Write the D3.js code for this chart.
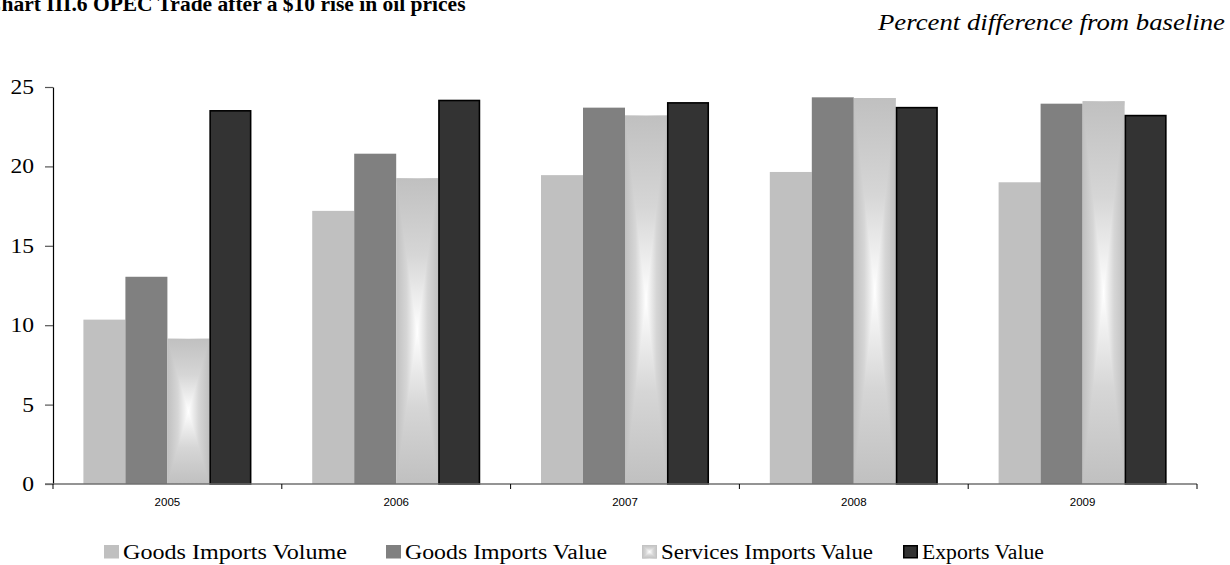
<!DOCTYPE html>
<html>
<head>
<meta charset="utf-8">
<script src="https://cdn.jsdelivr.net/npm/d3@7"></script>
<style>
  html, body { margin: 0; padding: 0; background: #fff; }
  svg { display: block; }
</style>
</head>
<body>
<svg id="chart" width="1230" height="565"></svg>
<script>
// Categories, series and values
const categories = ["2005", "2006", "2007", "2008", "2009"];
const seriesNames = ["Goods Imports Volume", "Goods Imports Value", "Services Imports Value", "Exports Value"];
const goodsImportsVolume   = [10.35, 17.2, 19.45, 19.65, 19.0];
const goodsImportsValue    = [13.05, 20.8, 23.7, 24.35, 23.95];
const servicesImportsValue = [9.15, 19.25, 23.2, 24.3, 24.1];
const exportsValue         = [23.5, 24.15, 24.0, 23.7, 23.2];
const yTicks = [0, 5, 10, 15, 20, 25];

const seriesValues = [goodsImportsVolume, goodsImportsValue, servicesImportsValue, exportsValue];

const serif = "'Liberation Serif', 'Times New Roman', serif";
const sans = "'Liberation Sans', Arial, sans-serif";
const stretch = 1.15; // serif labels are set slightly wide

const svg = d3.select("#chart");
const plot = { left: 53, right: 1197, top: 87, bottom: 484 };

const x0 = d3.scaleBand().domain(categories).range([plot.left, plot.right]).padding(0);
const x1 = d3.scaleBand().domain(seriesNames).range([0, x0.bandwidth()])
  .paddingInner(0).paddingOuter(0.724);
const y = d3.scaleLinear().domain([0, 25]).range([plot.bottom, plot.top]);

// Gradients for the centre-lit "Services Imports Value" bars
const defs = svg.append("defs");
function linGrad(id, x1g, y1g, x2g, y2g, stops) {
  const g = defs.append("linearGradient").attr("id", id)
    .attr("x1", x1g).attr("y1", y1g).attr("x2", x2g).attr("y2", y2g);
  stops.forEach(([o, c]) => g.append("stop").attr("offset", o).attr("stop-color", c));
}
const edge = "#c0c0c0", mid = "#d6d6d6", centre = "#ffffff";
linGrad("gHoriz", 0, 0, 1, 0, [[0, edge], [0.25, mid], [0.5, centre], [0.75, mid], [1, edge]]);
linGrad("gTop", 0, 0, 0, 1, [[0, edge], [0.5, mid], [1, centre]]);
linGrad("gBottom", 0, 1, 0, 0, [[0, edge], [0.5, mid], [1, centre]]);

function litRect(g, x, yTop, w, h) {
  g.append("rect").attr("x", x).attr("y", yTop).attr("width", w).attr("height", h)
    .attr("fill", "url(#gHoriz)");
  const cx = x + w / 2, cy = yTop + h / 2;
  g.append("path")
    .attr("d", `M${x},${yTop}L${x + w},${yTop}L${cx},${cy}Z`)
    .attr("fill", "url(#gTop)");
  g.append("path")
    .attr("d", `M${x},${yTop + h}L${x + w},${yTop + h}L${cx},${cy}Z`)
    .attr("fill", "url(#gBottom)");
}

const fills = ["#c0c0c0", "#808080", null, "#333333"];

// Title (runs off the top-left of the page) and unit note
svg.append("text")
  .attr("x", -14).attr("y", 11)
  .attr("font-family", serif).attr("font-weight", "bold").attr("font-size", 21.5)
  .attr("fill", "#000")
  .text("Chart III.6 OPEC Trade after a $10 rise in oil prices");

svg.append("text")
  .attr("x", 878).attr("y", 30)
  .attr("textLength", 347).attr("lengthAdjust", "spacingAndGlyphs")
  .attr("font-family", serif).attr("font-style", "italic").attr("font-size", 23)
  .attr("fill", "#000")
  .text("Percent difference from baseline");

// Bars
const barsG = svg.append("g");
categories.forEach((cat, ci) => {
  seriesNames.forEach((s, si) => {
    const v = seriesValues[si][ci];
    const bx = x0(cat) + x1(s);
    const bw = x1.bandwidth();
    const by = y(v);
    const bh = y(0) - y(v);
    if (si === 2) {
      litRect(barsG, bx, by, bw, bh);
    } else if (si === 3) {
      barsG.append("rect").attr("x", bx + 0.75).attr("y", by).attr("width", bw - 1.5).attr("height", bh)
        .attr("fill", fills[si]).attr("stroke", "#000").attr("stroke-width", 1.6);
    } else {
      barsG.append("rect").attr("x", bx).attr("y", by).attr("width", bw).attr("height", bh)
        .attr("fill", fills[si]);
    }
  });
});

// Y axis
const yAxis = svg.append("g")
  .attr("transform", `translate(${plot.left},0)`)
  .call(d3.axisLeft(y).tickValues(yTicks).tickSize(8).tickSizeOuter(0).tickPadding(11));
yAxis.select(".domain").attr("stroke", "#000").attr("stroke-width", 1.2);
yAxis.selectAll(".tick line").attr("stroke", "#555").attr("stroke-width", 1.2);
yAxis.selectAll(".tick text")
  .attr("x", 0)
  .attr("transform", `translate(-19,0) scale(${stretch},1)`)
  .attr("font-family", serif).attr("font-size", 20.5).attr("fill", "#000");

// X axis: labels at group centres, ticks at group boundaries
const xAxis = svg.append("g")
  .attr("transform", `translate(0,${plot.bottom})`)
  .call(d3.axisBottom(x0).tickSize(0).tickPadding(14).tickSizeOuter(0));
xAxis.select(".domain").attr("stroke", "#707070").attr("stroke-width", 1.5)
  .attr("d", `M${plot.left - 8},0H${plot.right}`);
xAxis.selectAll(".tick text")
  .attr("font-family", sans).attr("font-size", 11.5).attr("fill", "#000");
const bounds = categories.map(c => x0(c)).concat([x0.range()[1]]);
xAxis.selectAll(".bound").data(bounds).join("line")
  .attr("class", "bound")
  .attr("x1", d => d).attr("x2", d => d).attr("y1", 0).attr("y2", 5)
  .attr("stroke", "#000").attr("stroke-width", 1);

// Legend
const legendX = [104, 386, 642, 903];
const legendTextWidth = [224, 202, 212, 122];
const legend = svg.append("g");
seriesNames.forEach((s, si) => {
  const lx = legendX[si];
  const g = legend.append("g");
  if (si === 2) {
    litRect(g, lx, 545, 15, 13.5);
  } else if (si === 3) {
    g.append("rect").attr("x", lx + 0.75).attr("y", 545.75).attr("width", 13.5).attr("height", 12)
      .attr("fill", fills[si]).attr("stroke", "#000").attr("stroke-width", 1.5);
  } else {
    g.append("rect").attr("x", lx).attr("y", 545).attr("width", 15).attr("height", 13.5)
      .attr("fill", fills[si]);
  }
  g.append("text")
    .attr("x", lx + 19).attr("y", 558.5)
    .attr("textLength", legendTextWidth[si]).attr("lengthAdjust", "spacingAndGlyphs")
    .attr("font-family", serif).attr("font-size", 20.5).attr("fill", "#000")
    .text(s);
});
</script>
</body>
</html>
